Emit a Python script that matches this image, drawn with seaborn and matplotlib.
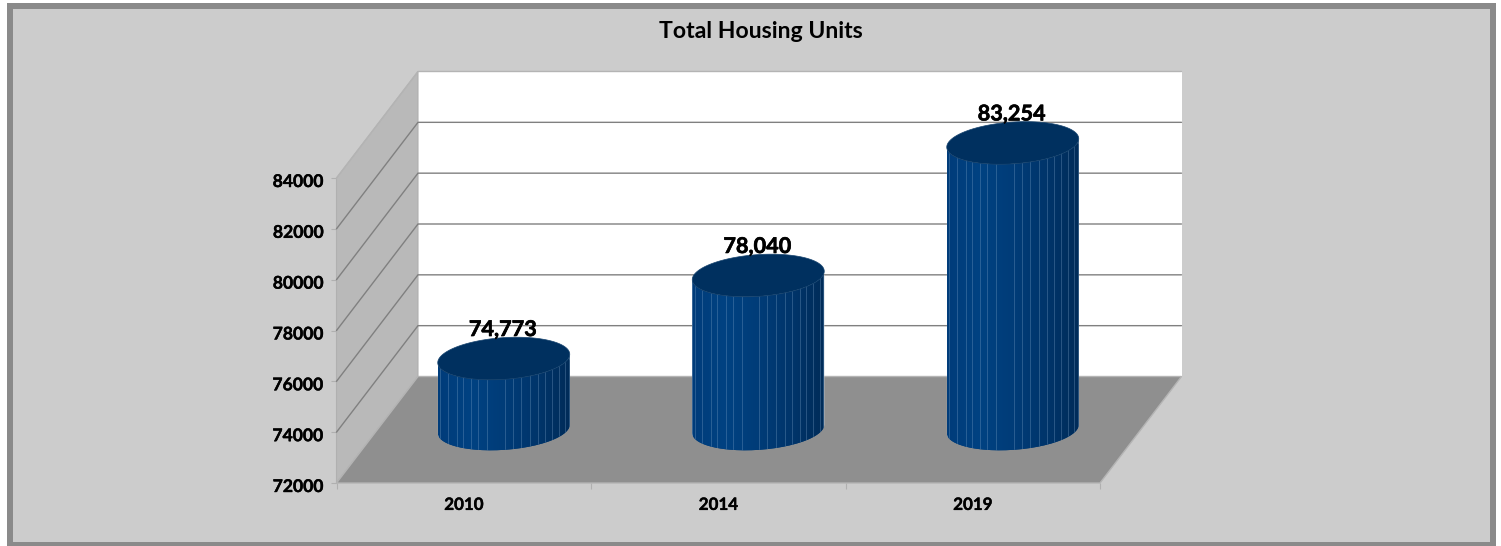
import numpy as np
import matplotlib
matplotlib.use("Agg")
import matplotlib.pyplot as plt
import matplotlib.patheffects as pe
from matplotlib.colors import LinearSegmentedColormap
from matplotlib.path import Path
from matplotlib.patches import Rectangle
from matplotlib.transforms import ScaledTranslation
import seaborn as sns

# ---- data
years = ["2010", "2014", "2019"]
units = [74773, 78040, 83254]
unit_labels = ["74,773", "78,040", "83,254"]
y_ticks = [72000, 74000, 76000, 78000, 80000, 82000, 84000]
title_text = "Total Housing Units"
# facet seams of the cylinder, as a fraction of its width
seams = [0.018, 0.076, 0.145, 0.191, 0.254, 0.305, 0.374, 0.509, 0.567,
         0.634, 0.700, 0.756, 0.814, 0.865, 0.916, 0.967, 0.992]

W, H = 1501, 546
sns.set_theme(style="white")
plt.rcParams["font.family"] = ["Lato", "DejaVu Sans"]
fig = plt.figure(figsize=(W / 100, H / 100), dpi=100, facecolor="white")
thick = [pe.withStroke(linewidth=0.45, foreground="black")]

def box(l, t, r, b):
    return [l / W, 1 - b / H, (r - l) / W, (b - t) / H]

# chart frame
fig.add_artist(Rectangle((7 / W, 0), 1489 / W, 543 / H, transform=fig.transFigure,
                         fc="#8A8A8A", ec="none", zorder=-3))
fig.add_artist(Rectangle((13 / W, 1 - 541.5 / H), 1477 / W, 532.5 / H, transform=fig.transFigure,
                         fc="#CCCCCC", ec="none", zorder=-2))
fig.text(760.5 / W, 1 - 31 / H, title_text, ha="center", va="center",
         fontsize=16.6, fontweight="bold", color="black")

# front plane of the 3D box: categories and value scale
FL, FR, FT, FB = 336.5, 1100, 178, 483
DX_PX, DY_PX = 81.5, 106.5           # depth of the box in pixels
ax = fig.add_axes(box(FL, FT, FR, FB))
ax.patch.set_alpha(0)
ax.set_xlim(-0.5, 2.5)
ax.set_ylim(y_ticks[0], y_ticks[-1])
x_per_px = 3 / (FR - FL)
y_per_px = (y_ticks[-1] - y_ticks[0]) / (FB - FT)
dx, dy = DX_PX * x_per_px, DY_PX * y_per_px
x0, x1, y0, y1 = -0.5, 2.5, y_ticks[0], y_ticks[-1]

ax.fill([x0 + dx, x1 + dx, x1 + dx, x0 + dx], [y0 + dy, y0 + dy, y1 + dy, y1 + dy],
        fc="white", ec="none", clip_on=False, zorder=1)
ax.fill([x0, x0 + dx, x0 + dx, x0], [y0, y0 + dy, y1 + dy, y1],
        fc="#B9B9B9", ec="#B0B0B0", lw=0.8, clip_on=False, zorder=1)
ax.fill([x0, x0 + dx, x1 + dx, x1], [y0, y0 + dy, y0 + dy, y0],
        fc="#8F8F8F", ec="#B4B4B4", lw=1.0, clip_on=False, zorder=2)
for v in y_ticks[1:]:
    c = "#808080" if v != y_ticks[-1] else "#B4B4B4"
    ax.plot([x0, x0 + dx, x1 + dx], [v, v + dy, v + dy], color=c, lw=1.0,
            clip_on=False, zorder=3, solid_joinstyle="miter")

ax.set_xticks(range(len(years)), years)
ax.set_yticks(y_ticks, [str(v) for v in y_ticks])
ax.set_xticks([-0.5, 0.5, 1.5, 2.5], minor=True)
ax.tick_params(axis="x", which="major", bottom=False, length=0, pad=10, labelsize=12.2)
ax.tick_params(axis="x", which="minor", bottom=True, length=4.5, width=0.8, color="#B0B0B0")
ax.tick_params(axis="y", which="major", left=True, length=4.5, width=0.8, color="#B0B0B0", pad=5,
               labelsize=12.6)
for t in ax.get_xticklabels() + ax.get_yticklabels():
    t.set_fontweight("bold")
    t.set_color("black")
    t.set_path_effects([pe.withStroke(linewidth=0.3, foreground="black")])
down = ScaledTranslation(0, -2.5 / 100, fig.dpi_scale_trans)
for t in ax.get_yticklabels():
    t.set_transform(t.get_transform() + down)
for s in ax.spines.values():
    s.set_visible(False)

# bars sit half-way along the depth of the box
SHIFT_X, SHIFT_Y = 40, 54
ax_b = fig.add_axes(box(FL + SHIFT_X, FT - SHIFT_Y, FR + SHIFT_X, FB - SHIFT_Y))
ax_b.patch.set_alpha(0)
sns.barplot(x=years, y=units, width=132 / 254.5, color="#003A75", ax=ax_b, saturation=1)

cmap = LinearSegmentedColormap.from_list(
    "cyl", ["#003C7A", "#004282", "#003C78", "#00356B", "#002C59"])
grad = np.linspace(0, 1, 256)[None, :]

vy = 21.3 * y_per_px         # half height of the disc
vx = 13.0 * x_per_px         # sideways skew of the disc

bars = list(ax_b.patches)
for i, bar in enumerate(bars):
    cx = bar.get_x() + bar.get_width() / 2
    half = bar.get_width() / 2
    top = units[i]
    base = y_ticks[0]
    ux = np.sqrt(half ** 2 - vx ** 2)
    t0 = np.arctan2(vx, ux)

    def disc(yc, t):
        return cx + ux * np.cos(t) + vx * np.sin(t), yc + vy * np.sin(t)

    lower = np.linspace(t0 + np.pi, t0 + 2 * np.pi, 80)
    upper = np.linspace(t0 + 2 * np.pi, t0 + np.pi, 80)
    xl, yl = disc(base, lower)
    xu, yu = disc(top, upper)
    sil = np.column_stack([np.r_[xl, xu, xl[0]], np.r_[yl, yu, yl[0]]])
    clip = Path(sil)

    bar.set_clip_box(fig.bbox)
    bar.set_clip_path(clip, ax_b.transData)
    im = ax_b.imshow(grad, extent=(cx - half, cx + half, base - 2 * vy, top + 2 * vy),
                     cmap=cmap, aspect="auto", interpolation="bilinear", zorder=3)
    im.set_clip_box(fig.bbox)
    im.set_clip_path(clip, ax_b.transData)

    for f in seams:
        xs = cx - half + f * 2 * half
        ln, = ax_b.plot([xs, xs], [base - 2 * vy, top + 2 * vy], color="#7FA3C7",
                        lw=0.7, alpha=0.33, zorder=4)
        ln.set_clip_box(fig.bbox)
        ln.set_clip_path(clip, ax_b.transData)

    xe, ye = disc(top, np.linspace(0, 2 * np.pi, 160))
    ax_b.fill(xe, ye, fc="#00305F", ec="#17446F", lw=0.5, clip_on=False, zorder=5)
    ax_b.annotate(unit_labels[i], xy=(cx, top), xytext=(-1, 29), textcoords="offset pixels",
                  ha="center", va="center", fontsize=15.6, fontweight="bold",
                  color="black", zorder=6, annotation_clip=False, path_effects=thick)

ax_b.set_xlim(-0.5, 2.5)
ax_b.set_ylim(y_ticks[0], y_ticks[-1])
ax_b.axis("off")

fig.savefig("out.png", dpi=100, facecolor="white")
